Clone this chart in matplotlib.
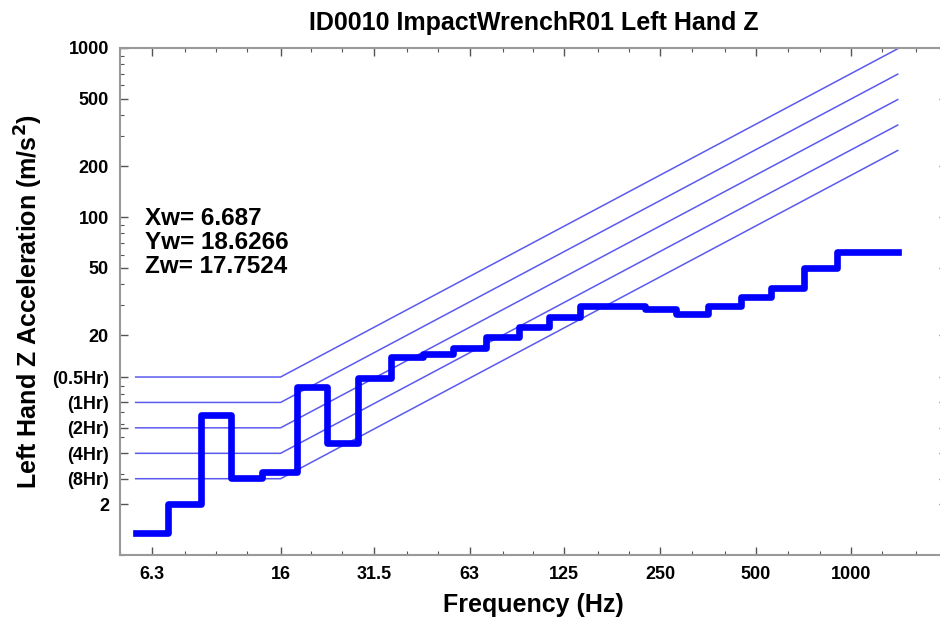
import matplotlib
matplotlib.use("Agg")
import matplotlib.pyplot as plt
from matplotlib.ticker import FixedLocator, NullFormatter, LogLocator

plt.rcParams['font.family'] = ['Liberation Sans', 'DejaVu Sans']
plt.rcParams['font.weight'] = 'bold'

# third-octave band edges (Hz) and measured acceleration per band (m/s^2)
band_edges = [5.6, 7.1, 9, 11.2, 14, 18, 22.4, 28, 35.5, 45, 56, 71, 90, 112,
              140, 180, 224, 280, 355, 450, 560, 710, 900, 1120, 1400]
band_accel = [1.36, 2.0, 6.7, 2.84, 3.1, 9.9, 4.6, 11.1, 14.9, 15.4, 16.7, 19.6,
              22.4, 25.5, 29.7, 29.7, 28.4, 26.6, 29.7, 33.5, 37.9, 50.1, 61.8, 62.3]

# exposure limit lines: flat up to 16 Hz then rising with frequency
limit_names = ['(0.5Hr)', '(1Hr)', '(2Hr)', '(4Hr)', '(8Hr)']
limit_levels = [11.31, 8.0, 5.66, 4.0, 2.83]
limit_freqs = [5.6, 16, 1400]

x_ticks = [6.3, 16, 31.5, 63, 125, 250, 500, 1000]
x_ticklabels = ['6.3', '16', '31.5', '63', '125', '250', '500', '1000']
x_minor = [5, 6.3, 8, 10, 12.5, 16, 20, 25, 31.5, 40, 50, 63, 80, 100, 125, 160,
           200, 250, 315, 400, 500, 630, 800, 1000, 1250, 1600]
y_ticks = [1000, 500, 200, 100, 50, 20, 2]
y_ticklabels = ['1000', '500', '200', '100', '50', '20', '2']

weighted = [('Xw', '6.687'), ('Yw', '18.6266'), ('Zw', '17.7524')]

fig = plt.figure(figsize=(9.4, 6.23), dpi=100)
ax = fig.add_axes([0.1277, 0.109, 0.8797, 0.814])
ax.set_xscale('log')
ax.set_yscale('log')

for lvl in limit_levels:
    ys = [lvl, lvl, lvl * limit_freqs[2] / limit_freqs[1]]
    ax.plot(limit_freqs, ys, color='#5a5af0', linewidth=1.1)

ax.step(band_edges, band_accel + [band_accel[-1]], where='post',
        color='#0000ff', linewidth=4.8, solid_joinstyle='round')

ax.set_xlim(5, 2000)
ax.set_ylim(1, 1000)

ax.xaxis.set_major_locator(FixedLocator(x_ticks))
ax.xaxis.set_ticklabels(x_ticklabels)
ax.xaxis.set_minor_locator(FixedLocator(x_minor))
ax.xaxis.set_minor_formatter(NullFormatter())

ax.yaxis.set_major_locator(FixedLocator(y_ticks + limit_levels))
ax.yaxis.set_ticklabels(y_ticklabels + limit_names)
ax.yaxis.set_minor_locator(LogLocator(base=10, subs=range(1, 10)))
ax.yaxis.set_minor_formatter(NullFormatter())

ax.tick_params(which='both', direction='in', top=True, right=True,
               color='#555555', labelsize=13)
ax.tick_params(which='major', length=6, width=1, pad=8)
ax.tick_params(which='minor', length=3, width=0.8)

for sp in ax.spines.values():
    sp.set_color('#999999')
    sp.set_linewidth(1.5)

ax.set_title('ID0010 ImpactWrenchR01 Left Hand Z', fontsize=18, fontweight='bold', pad=13)
ax.set_xlabel('Frequency (Hz)', fontsize=18, fontweight='bold', labelpad=7)
ax.set_ylabel('Left Hand Z Acceleration (m/s$^\\mathbf{2}$)', fontsize=18,
              fontweight='bold', labelpad=5)

txt = '\n'.join(f'{k}= {v}' for k, v in weighted)
fig.text(0.154, 0.668, txt, fontsize=17.5, fontweight='bold', va='top', ha='left',
         linespacing=1.05)

fig.savefig('out.png', dpi=100)
